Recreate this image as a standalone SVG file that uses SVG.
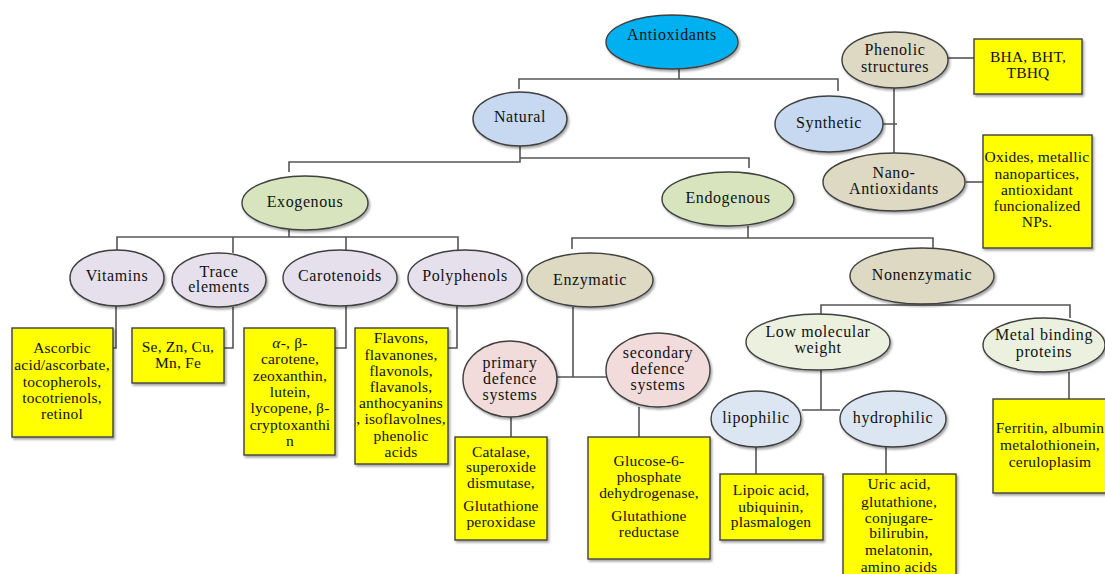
<svg xmlns="http://www.w3.org/2000/svg" width="1105" height="574" viewBox="0 0 1105 574">
<style>
.n{stroke:#3f3f3f;stroke-width:1.4;filter:url(#sh)}
.b{fill:#ffff00;stroke:#3f3f3f;stroke-width:1.4;filter:url(#sh)}
.t{font-family:"Liberation Serif","Times New Roman",serif;font-size:16px;letter-spacing:0.6px;fill:#111;text-anchor:middle}
.bt{font-family:"Liberation Serif","Times New Roman",serif;font-size:15.5px;letter-spacing:0.2px;fill:#111;text-anchor:middle}
.c{fill:none;stroke:#555;stroke-width:1.6}
.blue{fill:#00b0f0}.lb{fill:#c6d9f1}.gr{fill:#d7e4bd}.lv{fill:#e6e0ec}.tan{fill:#ddd9c3}.pk{fill:#f2dcdb}.lg{fill:#ebf1de}.pb{fill:#dce6f2}
</style>
<defs>
<filter id="sh" x="-10%" y="-10%" width="125%" height="130%">
<feDropShadow dx="1.5" dy="2" stdDeviation="1.2" flood-color="#000" flood-opacity="0.35"/>
</filter>
</defs>
<g id="connectors">
<path class="c" d="M679,69 V79 M519,89 V79 H838 V91"/>
<path class="c" d="M883,124 H897 M894,88 V153"/>
<path class="c" d="M948,58 H974"/>
<path class="c" d="M966,182 H983"/>
<path class="c" d="M289,172 V162 H520 V146 M520,158 H749 V168"/>
<path class="c" d="M289,230 V237 M117,250 V237 H458 V250 M233,237 V253 M346,237 V250"/>
<path class="c" d="M116,305 V348 H113 M233,307 V348 H224 M346,305 V348 H335 M457,305 V348 H448"/>
<path class="c" d="M748,226 V238 M572,249 V238 H933 V248"/>
<path class="c" d="M573,307 V377 M557,377 H607"/>
<path class="c" d="M511,417 V437 M639,407 V437"/>
<path class="c" d="M821,315 V305 H1070 V318"/>
<path class="c" d="M821,370 V410 M802,410 H840"/>
<path class="c" d="M756,447 V474 M886,447 V474"/>
<path class="c" d="M1069,372 V399"/>
</g>
<g id="antioxidants"><ellipse class="n blue" cx="672" cy="42" rx="66" ry="27"/><text class="t" x="672" y="40">Antioxidants</text></g>
<g id="natural"><ellipse class="n lb" cx="520" cy="119" rx="47" ry="27"/><text class="t" x="520" y="122">Natural</text></g>
<g id="synthetic"><ellipse class="n lb" cx="829" cy="124" rx="54" ry="28"/><text class="t" x="829" y="128">Synthetic</text></g>
<g id="phenolic"><ellipse class="n tan" cx="895" cy="60" rx="53" ry="28"/><text class="t" x="895" y="55">Phenolic</text><text class="t" x="895" y="72">structures</text></g>
<g id="nano"><ellipse class="n tan" cx="894" cy="182" rx="71" ry="29"/><text class="t" x="894" y="178">Nano-</text><text class="t" x="894" y="194">Antioxidants</text></g>
<g id="bha"><rect class="b" x="974" y="39" width="108" height="55"/><text class="bt" x="1028" y="62">BHA, BHT,</text><text class="bt" x="1028" y="78">TBHQ</text></g>
<g id="oxides"><rect class="b" x="983" y="135" width="109" height="113"/><text class="bt" x="1037" y="162">Oxides, metallic</text><text class="bt" x="1037" y="179">nanopartices,</text><text class="bt" x="1037" y="195">antioxidant</text><text class="bt" x="1037" y="211">funcionalized</text><text class="bt" x="1037" y="227">NPs.</text></g>
<g id="exogenous"><ellipse class="n gr" cx="305" cy="203" rx="63" ry="27"/><text class="t" x="305" y="207">Exogenous</text></g>
<g id="endogenous"><ellipse class="n gr" cx="728" cy="199" rx="66" ry="27"/><text class="t" x="728" y="203">Endogenous</text></g>
<g id="vitamins"><ellipse class="n lv" cx="117" cy="278" rx="47" ry="28"/><text class="t" x="117" y="281">Vitamins</text></g>
<g id="trace"><ellipse class="n lv" cx="219" cy="280" rx="47" ry="27"/><text class="t" x="219" y="277">Trace</text><text class="t" x="219" y="292">elements</text></g>
<g id="carotenoids"><ellipse class="n lv" cx="340" cy="278" rx="57" ry="28"/><text class="t" x="340" y="281">Carotenoids</text></g>
<g id="polyphenols"><ellipse class="n lv" cx="465" cy="278" rx="57" ry="28"/><text class="t" x="465" y="281">Polyphenols</text></g>
<g id="ascorbic"><rect class="b" x="12" y="328" width="101" height="109"/><text class="bt" x="62" y="353">Ascorbic</text><text class="bt" x="62" y="370">acid/ascorbate,</text><text class="bt" x="62" y="387">tocopherols,</text><text class="bt" x="62" y="403">tocotrienols,</text><text class="bt" x="62" y="419">retinol</text></g>
<g id="se"><rect class="b" x="132" y="328" width="92" height="55"/><text class="bt" x="178" y="352">Se, Zn, Cu,</text><text class="bt" x="178" y="368">Mn, Fe</text></g>
<g id="carotene"><rect class="b" x="244" y="328" width="91" height="127"/><text class="bt" x="290" y="348"><tspan font-style="italic">α</tspan>-, β-</text><text class="bt" x="290" y="364">carotene,</text><text class="bt" x="290" y="381">zeoxanthin,</text><text class="bt" x="290" y="397">lutein,</text><text class="bt" x="290" y="413">lycopene, β-</text><text class="bt" x="290" y="430">cryptoxanthi</text><text class="bt" x="290" y="446">n</text></g>
<g id="flavons"><rect class="b" x="355" y="328" width="93" height="136"/><text class="bt" x="401" y="343">Flavons,</text><text class="bt" x="401" y="360">flavanones,</text><text class="bt" x="401" y="376">flavonols,</text><text class="bt" x="401" y="392">flavanols,</text><text class="bt" x="401" y="408">anthocyanins</text><text class="bt" x="401" y="424">, isoflavolnes,</text><text class="bt" x="401" y="441">phenolic</text><text class="bt" x="401" y="457">acids</text></g>
<g id="enzymatic"><ellipse class="n tan" cx="590" cy="280" rx="63" ry="27"/><text class="t" x="590" y="285">Enzymatic</text></g>
<g id="nonenzymatic"><ellipse class="n tan" cx="922" cy="276" rx="72" ry="28"/><text class="t" x="922" y="280">Nonenzymatic</text></g>
<g id="primary"><ellipse class="n pk" cx="510" cy="379" rx="47" ry="38"/><text class="t" x="510" y="368">primary</text><text class="t" x="510" y="384">defence</text><text class="t" x="510" y="400">systems</text></g>
<g id="secondary"><ellipse class="n pk" cx="658" cy="370" rx="52" ry="37"/><text class="t" x="658" y="358">secondary</text><text class="t" x="658" y="374">defence</text><text class="t" x="658" y="390">systems</text></g>
<g id="catalase"><rect class="b" x="455" y="437" width="92" height="103"/><text class="bt" x="501" y="457">Catalase,</text><text class="bt" x="501" y="472">superoxide</text><text class="bt" x="501" y="488">dismutase,</text><text class="bt" x="501" y="511">Glutathione</text><text class="bt" x="501" y="527">peroxidase</text></g>
<g id="glucose"><rect class="b" x="588" y="437" width="122" height="122"/><text class="bt" x="649" y="466">Glucose-6-</text><text class="bt" x="649" y="482">phosphate</text><text class="bt" x="649" y="498">dehydrogenase,</text><text class="bt" x="649" y="521">Glutathione</text><text class="bt" x="649" y="537">reductase</text></g>
<g id="lowmol"><ellipse class="n lg" cx="818" cy="342" rx="72" ry="28"/><text class="t" x="818" y="337">Low molecular</text><text class="t" x="818" y="353">weight</text></g>
<g id="metal"><ellipse class="n lg" cx="1044" cy="345" rx="61" ry="27"/><text class="t" x="1044" y="340">Metal binding</text><text class="t" x="1044" y="357">proteins</text></g>
<g id="lipophilic"><ellipse class="n pb" cx="756" cy="419" rx="45" ry="28"/><text class="t" x="756" y="423">lipophilic</text></g>
<g id="hydrophilic"><ellipse class="n pb" cx="893" cy="419" rx="53" ry="28"/><text class="t" x="893" y="423">hydrophilic</text></g>
<g id="lipoic"><rect class="b" x="720" y="474" width="103" height="66"/><text class="bt" x="771" y="495">Lipoic acid,</text><text class="bt" x="771" y="512">ubiquinin,</text><text class="bt" x="771" y="527">plasmalogen</text></g>
<g id="uric"><rect class="b" x="843" y="474" width="113" height="110"/><text class="bt" x="899" y="489">Uric acid,</text><text class="bt" x="899" y="507">glutathione,</text><text class="bt" x="899" y="523">conjugare-</text><text class="bt" x="899" y="538">bilirubin,</text><text class="bt" x="899" y="555">melatonin,</text><text class="bt" x="899" y="572">amino acids</text></g>
<g id="ferritin"><rect class="b" x="993" y="399" width="120" height="94"/><text class="bt" x="1050" y="433">Ferritin, albumin</text><text class="bt" x="1050" y="450">metalothionein,</text><text class="bt" x="1050" y="467">ceruloplasim</text></g>
</svg>
